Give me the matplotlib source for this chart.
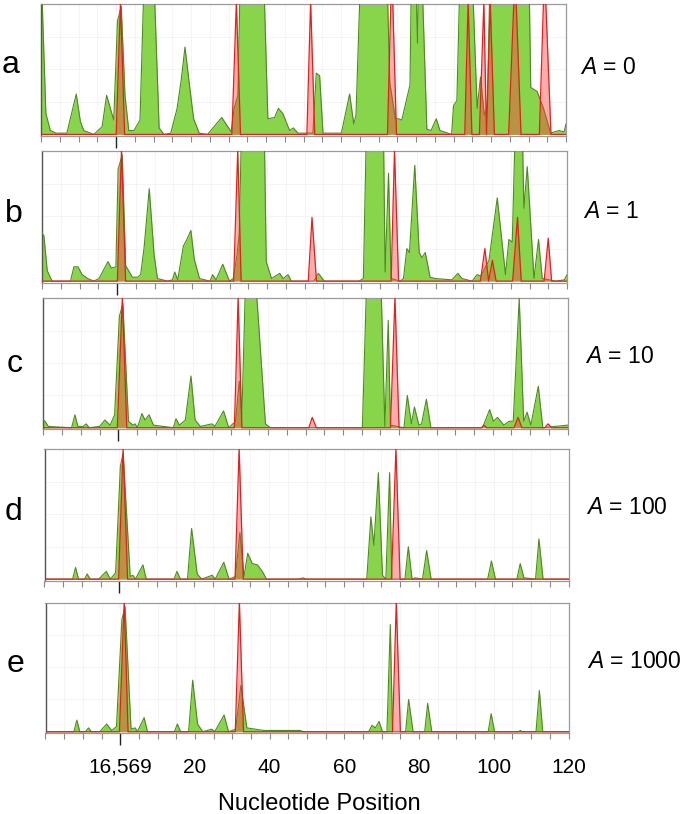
import matplotlib
matplotlib.use("Agg")
import matplotlib.pyplot as plt

plt.rcParams['font.family'] = ['Liberation Sans', 'DejaVu Sans']
plt.rcParams['mathtext.fontset'] = 'custom'
plt.rcParams['mathtext.it'] = 'Liberation Sans:italic'
plt.rcParams['mathtext.rm'] = 'Liberation Sans'

# ---------------- data (position offset from 16,569; 0 = 16,569) ----------------
panel_letters = ['a', 'b', 'c', 'd', 'e']
A_values = ['0', '1', '10', '100', '1000']
tick_labels = {0: '16,569', 20: '20', 40: '40', 60: '60', 80: '80', 100: '100', 120: '120'}

green_x_a = [-20, -18.7, -17.5, -16, -13.1, -10.6, -9.5, -8.6, -5.9, -3.7, -2.5, -0.6, 0.4, 1.4, 2.4, 3.4,
             4.8, 6.4, 7.6, 10.0, 11.5, 12.8, 14.6, 16.3, 17.4, 18.4, 19.5, 20.7, 22.2, 24.4, 28.2, 30.7,
             31.5, 32.5, 33.2, 39.3, 40.5, 42.3, 43.3, 44.5, 46.3, 47.3, 48.5, 52.5, 53.4, 54.3, 55.2, 60.1,
             62.3, 63.4, 64.0, 65.3, 72.2, 73.0, 74.5, 75.3, 76.2, 78.4, 78.8, 79.9, 80.4, 80.8, 81.5, 82.9,
             84.0, 85.4, 86.4, 89.5, 90.0, 90.9, 91.8, 94.9, 96.3, 97.2, 98.2, 99.0, 99.8, 110.1, 110.6,
             112.3, 114.0, 115.9, 118.1, 119.5, 120]
green_y_a = [1.3, 0.16, 0.03, 0.01, 0.01, 0.31, 0.10, 0.03, 0.0, 0.06, 0.30, 0.11, 0.87, 0.98, 0.30, 0.03,
             0.03, 0.11, 1.3, 1.3, 0.05, 0.0, 0.01, 0.20, 0.42, 0.67, 0.40, 0.12, 0.01, 0.0, 0.13, 0.02,
             0.20, 0.30, 1.3, 1.3, 0.12, 0.13, 0.20, 0.16, 0.03, 0.05, 0.01, 0.01, 0.47, 0.45, 0.01, 0.01,
             0.31, 0.08, 0.15, 1.3, 1.3, 0.40, 0.12, 0.12, 0.11, 0.38, 1.3, 1.3, 0.70, 1.3, 1.3, 0.04,
             0.03, 0.12, 0.03, 0.0, 0.22, 0.26, 1.3, 1.3, 0.20, 0.44, 0.15, 0.20, 1.3, 1.3, 0.36,
             0.33, 0.20, 0.01, 0.03, 0.02, 0.08]
red_x_a = [-20, 0.05, 1.2, 2.3, 30.9, 32.1, 33.2, 50.9, 51.9, 53.0, 72.4, 73.3, 73.8, 74.8, 93.0, 93.9,
           94.9, 96.9, 98.1, 98.8, 99.8, 100.9, 104.7, 106.1, 106.7, 108.0, 112.9, 114.0, 114.6, 116.0, 120]
red_y_a = [0, 0, 1.02, 0, 0, 1.02, 0, 0, 1.02, 0, 0, 1.02, 1.02, 0, 0, 1.02,
           0, 0, 1.02, 0, 1.02, 0, 0, 1.02, 1.02, 0, 0, 1.02, 1.02, 0, 0]

green_x_b = [-20, -19.5, -18.6, -17.3, -12.4, -11.5, -10.4, -9.3, -7.8, -6.2, -4.8, -2.4, -1.5, -0.3, 0.3,
             1.4, 2.3, 4.1, 5.5, 6.3, 7.2, 8.6, 9.9, 10.8, 13.5, 14.8, 15.4, 16.2, 17.7, 18.8, 19.7, 20.6,
             22.0, 24.8, 25.5, 26.4, 28.2, 30.0, 31.0, 32.0, 32.6, 33.3, 39.2, 39.8, 41.2, 43.4, 44.3, 45.6,
             46.5, 52.5, 53.7, 55.3, 64.5, 65.7, 66.6, 71.0, 71.5, 72.4, 73.1, 75.5, 76.4, 77.3, 78.0, 79.4,
             80.6, 81.3, 82.2, 83.5, 84.9, 89.3, 90.9, 92.0, 94.7, 96.0, 97.0, 99.2, 101.4, 103.6, 104.5,
             105.4, 106.3, 108.0, 108.5, 109.4, 111.2, 112.4, 113.4, 117.0, 119.3, 120]
green_y_b = [0.37, 0.35, 0.08, 0.0, 0.0, 0.11, 0.11, 0.05, 0.02, 0.0, 0.02, 0.15, 0.10, 0.11, 0.86,
             0.97, 0.12, 0.03, 0.03, 0.05, 0.25, 0.71, 0.20, 0.02, 0.0, 0.01, 0.07, 0.01, 0.27, 0.33, 0.39, 0.17,
             0.02, 0.0, 0.05, 0.01, 0.13, 0.0, 0.02, 0.20, 0.37, 1.3, 1.3, 0.15, 0.02, 0.06, 0.02, 0.05,
             0.0, 0.0, 0.06, 0.0, 0.0, 0.02, 1.3, 1.3, 0.07, 0.83, 0.02, 0.0, 0.02, 0.25, 0.22, 0.89,
             0.22, 0.18, 0.22, 0.03, 0.02, 0.01, 0.06, 0.02, 0.0, 0.05, 0.04, 0.16, 0.64, 0.05, 0.32,
             0.30, 1.3, 1.3, 0.56, 0.88, 0.02, 0.32, 0.02, 0.0, 0.01, 0.05]
red_x_b = [-20, 0.1, 1.2, 2.3, 31.1, 32.2, 33.1, 51.0, 52.0, 53.2, 73.1, 74.0, 75.1, 96.9, 98.1, 99.1,
           100.1, 101.1, 105.5, 106.8, 107.8, 113.9, 115.0, 115.9, 120]
red_y_b = [0, 0, 1.01, 0, 0, 1.01, 0, 0, 0.49, 0, 0, 1.01, 0, 0, 0.25, 0,
           0.16, 0, 0, 0.49, 0, 0, 0.33, 0, 0]

green_x_c = [-20, -19.6, -18.7, -12.5, -11.6, -10.8, -9.4, -8.6, -7.8, -5.0, -3.6, -2.2, -1.0, 0.27, 1.2,
             2.7, 3.9, 4.5, 5.1, 6.3, 7.1, 8.2, 9.4, 14.7, 15.4, 16.3, 17.9, 19.4, 20.5, 21.9, 25.0, 25.8,
             28.1, 29.5, 31.3, 32.3, 33.0, 33.9, 36.9, 39.3, 40.6, 65.2, 66.5, 70.0, 71.2, 72.1, 72.7, 76.3,
             77.2, 78.3, 79.1, 80.3, 81.0, 82.3, 83.5, 97.3, 99.2, 100.2, 101.3, 103.0, 104.4, 105.5, 107.1,
             108.3, 109.2, 110.2, 112.2, 113.4, 120]
green_y_c = [0.06, 0.05, 0.01, 0.0, 0.10, 0.01, 0.01, 0.03, 0.0, 0.01, 0.06, 0.02, 0.10, 0.86, 0.96,
             0.05, 0.02, 0.03, 0.0, 0.11, 0.06, 0.10, 0.02, 0.0, 0.07, 0.02, 0.06, 0.40, 0.06, 0.01, 0.03, 0.01,
             0.13, 0.0, 0.05, 0.36, 0.10, 1.05, 1.05, 0.03, 0.0, 0.0, 1.3, 1.3, 0.01, 0.83, 0.02, 0.0,
             0.25, 0.03, 0.16, 0.02, 0.03, 0.22, 0.0, 0.0, 0.14, 0.05, 0.08, 0.02, 0.05, 0.05, 1.0,
             0.05, 0.12, 0.02, 0.32, 0.0, 0.02]
red_x_c = [-20, -0.27, 1.07, 2.25, 31.0, 32.0, 33.0, 50.9, 51.8, 52.9, 72.7, 73.9, 75.0, 97.0, 97.7, 98.4,
           105.7, 106.8, 107.8, 113.9, 114.8, 115.8, 120]
red_y_c = [0, 0, 1.01, 0, 0, 1.01, 0, 0, 0.08, 0, 0, 1.01, 0, 0, 0.02, 0,
           0, 0.08, 0, 0, 0.03, 0, 0]

green_x_d = [-20, -12.5, -11.7, -10.9, -9.3, -8.6, -7.8, -5.5, -3.5, -2.4, -1.0, 0.27, 1.0, 2.9, 3.6, 4.3,
             6.3, 7.2, 14.6, 15.4, 16.3, 18.2, 19.3, 20.8, 22.0, 24.8, 25.6, 27.9, 29.3, 31.0, 32.2, 33.3,
             34.3, 35.5, 36.9, 38.2, 39.3, 48.0, 49.0, 50.0, 66.1, 67.2, 68.0, 69.2, 70.3, 71.2, 72.2, 72.8,
             76.3, 77.2, 78.2, 79.0, 81.0, 82.1, 83.3, 98.4, 99.4, 100.5, 106.2, 107.1, 108.1, 111.2, 112.1,
             113.2, 120]
green_y_d = [0.0, 0.0, 0.09, 0.0, 0.0, 0.04, 0.0, 0.0, 0.06, 0.0, 0.05, 0.87, 0.97, 0.02, 0.03, 0.0,
             0.11, 0.0, 0.0, 0.06, 0.0, 0.0, 0.39, 0.04, 0.0, 0.03, 0.0, 0.13, 0.0, 0.02, 0.36, 0.02,
             0.20, 0.12, 0.11, 0.06, 0.0, 0.0, 0.01, 0.0, 0.0, 0.48, 0.26, 0.82, 0.03, 0.0, 0.82, 0.0,
             0.0, 0.25, 0.0, 0.01, 0.0, 0.22, 0.0, 0.0, 0.14, 0.0, 0.0, 0.12, 0.01, 0.0, 0.31,
             0.0, 0.0]
red_x_d = [-20, -0.2, 1.0, 2.2, 30.9, 32.0, 33.1, 72.7, 73.9, 75.0, 120]
red_y_d = [0, 0, 1.01, 0, 0, 1.01, 0, 0, 1.01, 0, 0]

green_x_e = [-20, -12.4, -11.6, -10.8, -9.3, -8.5, -7.7, -5.5, -3.6, -2.3, -1.0, 0.45, 1.3, 2.9, 4.0, 4.6,
             6.4, 7.3, 14.5, 15.3, 16.2, 18.3, 19.4, 20.7, 22.1, 24.5, 25.3, 27.8, 29.0, 30.9, 32.3, 33.9,
             38.4, 48.2, 49.0, 66.5, 67.4, 68.3, 69.3, 70.2, 71.4, 72.3, 72.9, 76.4, 77.2, 78.4, 81.5, 82.3,
             83.4, 98.5, 99.3, 100.2, 106.6, 107.1, 107.6, 111.3, 112.2, 113.1, 120]
green_y_e = [0.0, 0.0, 0.09, 0.0, 0.0, 0.03, 0.0, 0.0, 0.06, 0.01, 0.04, 0.87, 0.97, 0.02, 0.03, 0.0,
             0.11, 0.0, 0.0, 0.06, 0.0, 0.0, 0.40, 0.06, 0.0, 0.02, 0.0, 0.13, 0.0, 0.02, 0.36, 0.03,
             0.01, 0.01, 0.0, 0.0, 0.05, 0.03, 0.08, 0.0, 0.0, 0.83, 0.0, 0.0, 0.25, 0.0, 0.0, 0.22,
             0.0, 0.0, 0.14, 0.0, 0.0, 0.01, 0.0, 0.0, 0.32, 0.0, 0.0]
red_x_e = [-20, -0.2, 1.07, 2.1, 30.8, 31.9, 33.0, 72.9, 73.9, 75.0, 120]
red_y_e = [0, 0, 1.01, 0, 0, 1.01, 0, 0, 1.01, 0, 0]

greens = [(green_x_a, green_y_a), (green_x_b, green_y_b), (green_x_c, green_y_c),
          (green_x_d, green_y_d), (green_x_e, green_y_e)]
reds = [(red_x_a, red_y_a), (red_x_b, red_y_b), (red_x_c, red_y_c),
        (red_x_d, red_y_d), (red_x_e, red_y_e)]

# ---------------- layout (pixels in a 685 x 814 canvas) ----------------
W, H = 685.0, 814.0
frames = [(41, 566, 4, 136), (42, 567, 151, 282.7), (43.5, 567.5, 298.3, 429.3),
          (44.5, 568.5, 449.3, 580.7), (45.5, 568.5, 602.7, 733.3)]
letter_pos = [(2, 73), (5, 221.7), (6.5, 371.7), (5, 520), (6.5, 671.7)]
alabel_pos = [(580, 74), (583, 218), (585, 363.3), (585.5, 514), (587, 668.3)]

GREEN = '#88d44b'
GREEN_EDGE = '#4d8a22'
RED = '#ff3b3b'
RED_EDGE = '#e3201f'

fig = plt.figure(figsize=(W / 100, H / 100), dpi=100)

minor_ticks = [t for t in range(-20, 121, 5) if t != 0]

for i in range(5):
    L, R, T, B = frames[i]
    ax = fig.add_axes([L / W, 1 - B / H, (R - L) / W, (B - T) / H])
    gx, gy = greens[i]
    rx, ry = reds[i]
    ax.fill_between(gx, 0, gy, color=GREEN, lw=0, zorder=2)
    ax.plot(gx, gy, color=GREEN_EDGE, lw=0.8, zorder=3)
    ax.fill_between(rx, 0, ry, color=RED, alpha=0.42, lw=0, zorder=4)
    ax.plot(rx, ry, color=RED_EDGE, lw=0.9, zorder=5)
    ax.set_xlim(-20, 120)
    ax.set_ylim(-0.012, 1.0)

    ax.set_xticks([0])
    ax.set_xticks(minor_ticks, minor=True)
    ax.set_yticks([0.25, 0.5, 0.75])
    ax.grid(True, which='both', axis='x', color='#f3f3f3', lw=0.6, zorder=0)
    ax.grid(True, which='major', axis='y', color='#f3f3f3', lw=0.6, zorder=0)
    ax.tick_params(axis='y', length=0, labelleft=False)
    ax.tick_params(axis='x', which='major', length=8.6, width=1.0, color='#222222', pad=9.0,
                   labelsize=15)
    ax.tick_params(axis='x', which='minor', length=4.3, width=0.8, color='#888888', pad=13.3,
                   labelsize=15)
    if i == 4:
        ax.set_xticklabels([tick_labels[0]])
        ax.set_xticklabels([tick_labels.get(t, '') for t in minor_ticks], minor=True)
    else:
        ax.tick_params(axis='x', which='both', labelbottom=False)

    for s in ['top', 'right', 'bottom']:
        ax.spines[s].set_color('#9a9a9a')
        ax.spines[s].set_linewidth(0.9)
    ax.spines['left'].set_color('#555555')
    ax.spines['left'].set_linewidth(1.0)
    ax.spines['left'].set_linestyle((0, (1, 1)))

    lx, ly = letter_pos[i]
    fig.text(lx / W, 1 - ly / H, panel_letters[i], fontsize=23, ha='left', va='baseline')
    axx, axy = alabel_pos[i]
    fig.text(axx / W, 1 - axy / H, r'$\mathit{A}$ = ' + A_values[i], fontsize=16.5,
             ha='left', va='baseline')

fig.text(319.5 / W, 1 - 810.5 / H, 'Nucleotide Position', fontsize=17, ha='center', va='baseline')

fig.savefig('out.png', dpi=100)
